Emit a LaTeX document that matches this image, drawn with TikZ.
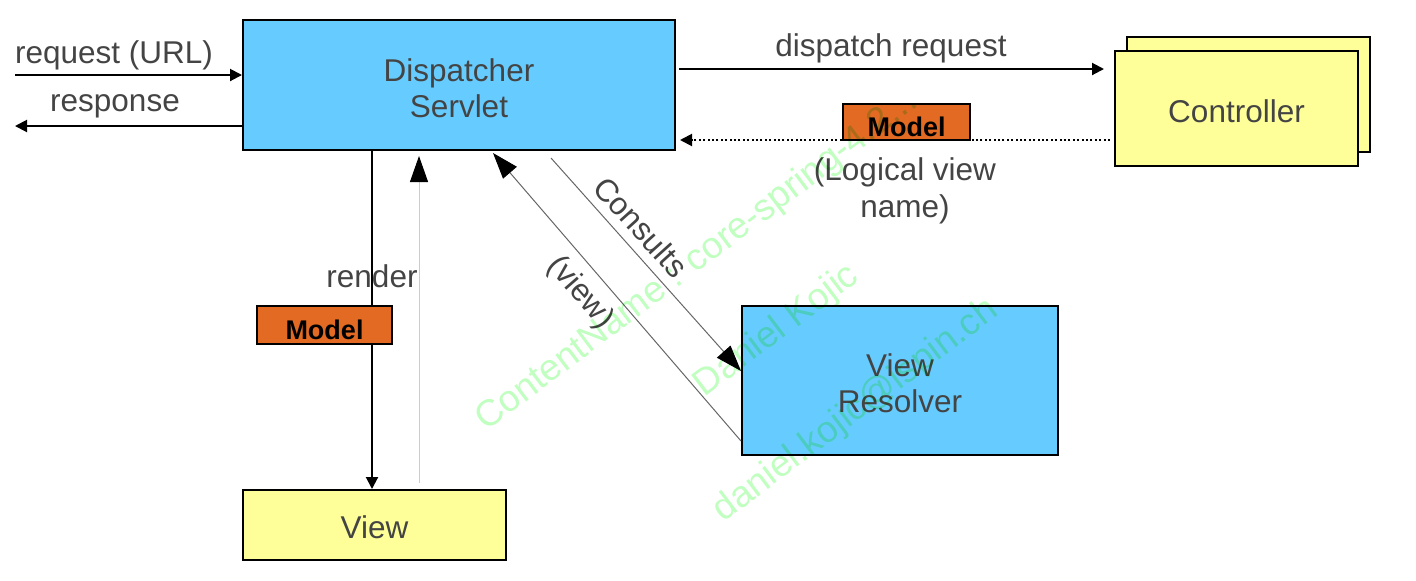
\documentclass[tikz,border=0pt]{standalone}
\usepackage{fontspec}
\setmainfont{Liberation Sans}
\usetikzlibrary{calc}
\usetikzlibrary{arrows.meta}
\definecolor{servletblue}{HTML}{66CCFF}
\definecolor{pageyellow}{HTML}{FFFF99}
\definecolor{modelorange}{HTML}{E26A22}
\definecolor{labelgray}{HTML}{444444}
\definecolor{markgreen}{HTML}{C0FFC0}
\tikzset{
  box/.style={draw=black, line width=1pt, inner sep=0pt, align=center, text=labelgray,
    font=\fontsize{15.75}{18}\selectfont},
  bluebox/.style={box, fill=servletblue},
  yellowbox/.style={box, fill=pageyellow},
  modelbox/.style={draw=black, line width=0.8pt, fill=modelorange, text=black, inner sep=0pt,
    text height=14.7pt, minimum width=63.5pt, minimum height=18pt,
    font=\fontsize{13.5}{16}\bfseries\selectfont},
  lbl/.style={text=labelgray, align=center, inner sep=0pt, yshift=-1.5pt,
    font=\fontsize{15.75}{18.5}\selectfont},
  watermark/.style={text=markgreen, inner sep=0pt, rotate=37, font=\fontsize{18.5}{20}\selectfont},
  smallhead/.style={-{Triangle[length=6pt,width=6pt,color=black]}},
  bighead/.style={-{Triangle[length=13pt,width=9pt,color=black]}},
}

\begin{document}
\begin{tikzpicture}[x=0.5pt, y=-0.5pt]
\useasboundingbox (0,0) rectangle (1416,580);

% boxes
\node[bluebox, minimum width=216pt, minimum height=65pt, text height=32.5pt] (disp) at (459,85) {Dispatcher\\Servlet};
\node[yellowbox, minimum width=121.5pt, minimum height=57.5pt] (ctrlback) at (1248.5,94.5) {};
\node[yellowbox, minimum width=121.5pt, minimum height=57.5pt, text height=14pt] (ctrl) at (1236.5,108.5) {Controller};
\node[yellowbox, minimum width=131.5pt, minimum height=35pt, text height=14pt] (view) at (374.5,525) {View};
\node[bluebox, minimum width=158pt, minimum height=74.5pt, text height=32.5pt] (vr) at (900,380.5) {View\\Resolver};

% request / response
\coordinate (reqin) at (15,75);
\coordinate (respout) at (15,126);
\draw[smallhead, line width=1pt] (reqin) -- (reqin -| disp.west);
\draw[smallhead, line width=1pt] (respout -| disp.west) -- (respout);
\node[lbl] (reqlbl) at (114,52) {request (URL)};
\node[lbl] (resplbl) at (115,103) {response};

% dispatch to controller and back
\coordinate (dsp) at (679,69);
\draw[smallhead, line width=1pt, shorten >=5pt] (dsp) -- (dsp -| ctrl.west);
\node[lbl] (dsplbl) at (891,45) {dispatch request};
\coordinate (ret) at (1110,140);
\draw[smallhead, line width=1pt, dash pattern=on 1pt off 1.2pt] (ret) -- ($(ret -| disp.east)+(4,0)$);
\node[modelbox] (model1) at (906.5,122) {Model};
\node[lbl] (lvlbl) at (905,188) {(Logical view\\name)};

% render
\coordinate (rx) at (372,0);
\draw[smallhead, line width=1pt] (rx |- disp.south) -- (rx |- view.north);
\node[lbl] (renderlbl) at (372,273) {render};
\node[modelbox, minimum width=67.5pt, minimum height=19pt] (model2) at (324.5,325) {Model};
\coordinate (ux) at (419,483);
\draw[bighead, line width=0.5pt, draw=black!20] (ux) -- ($(ux |- disp.south)+(0,5)$);

% view resolver
\coordinate (cs) at (551,158);
\draw[bighead, line width=0.5pt, draw=black!60] (cs) -- ($(vr.north west)+(0,66)$);
\node[lbl, rotate=-48] (cslbl) at (641,224) {Consults};
\coordinate (vw) at (493,0);
\draw[bighead, line width=0.5pt, draw=black!60] ($(vr.south west)+(0,-15)$) -- ($(vw |- disp.south)+(0,2)$);
\node[lbl, rotate=-49] (vwlbl) at (580,290) {(view)};

% watermark
\begin{scope}[blend mode=multiply]
\node[watermark] (wm1) at (697,261) {ContentName : core-spring-4.2...};
\node[watermark] (wm2) at (777,331) {Daniel Kojic};
\node[watermark] (wm3) at (856,411) {daniel.kojic@ispin.ch};
\end{scope}

\end{tikzpicture}
\end{document}
